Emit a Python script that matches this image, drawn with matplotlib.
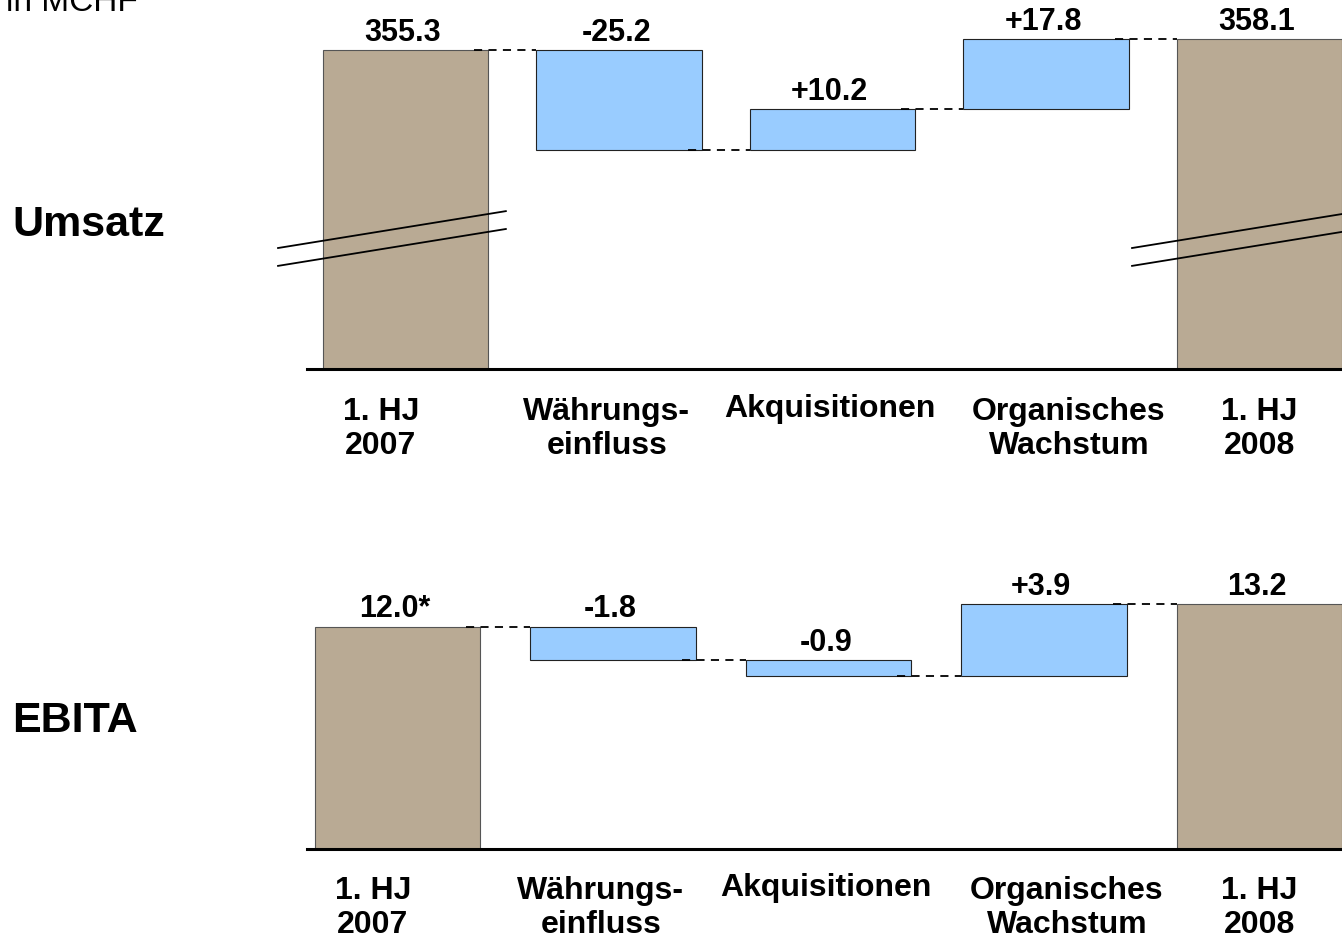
import numpy as np
import matplotlib
matplotlib.use('Agg')
import matplotlib.pyplot as plt

plt.rcParams['font.family'] = ['Liberation Sans', 'DejaVu Sans']

# Data
categories = ['1. HJ\n2007', 'Währungs-\neinfluss', 'Akquisitionen',
              'Organisches\nWachstum', '1. HJ\n2008']
umsatz_start = 355.3
umsatz_deltas = [-25.2, 10.2, 17.8]
umsatz_end = 358.1
ebita_start = 12.0
ebita_deltas = [-1.8, -0.9, 3.9]
ebita_end = 13.2
ebita_start_label = '12.0*'

# Styles
BROWN = '#B9AA94'
BLUE = '#99CCFF'
W, H = 1342, 936
DPI = 100


def px_axes(fig, left, top, right, bottom):
    return fig.add_axes([left / W, 1 - bottom / H, (right - left) / W, (bottom - top) / H])


def waterfall(ax, start, deltas, end, floor, width, start_label=None, breaks=None):
    x = np.arange(len(deltas) + 2)
    # totals
    ax.bar(x[0], start - floor, bottom=floor, width=width, color=BROWN,
           edgecolor='#555555', linewidth=0.8, zorder=2)
    ax.bar(x[-1], end - floor, bottom=floor, width=width, color=BROWN,
           edgecolor='#555555', linewidth=0.8, zorder=2)
    levels = [start]
    for d in deltas:
        levels.append(levels[-1] + d)
    lo = [min(levels[i], levels[i + 1]) for i in range(len(deltas))]
    ax.bar(x[1:-1], np.abs(deltas), bottom=lo, width=width, color=BLUE,
           edgecolor='#222222', linewidth=0.8, zorder=2)

    # connectors
    for i in range(len(levels)):
        ax.plot([x[i] + width / 2 - 0.065, x[i + 1] - width / 2], [levels[i], levels[i]],
                color='black', lw=1.3, dashes=(4.5, 3.5), zorder=3)

    # value labels
    tops = [start] + [max(levels[i], levels[i + 1]) for i in range(len(deltas))] + [end]
    texts = [start_label or f'{start:.1f}'] + [f'{d:+.1f}' for d in deltas] + [f'{end:.1f}']
    for xi, t, s in zip(x, tops, texts):
        ax.annotate(s, xy=(xi, t), xytext=(-2, 6.5), textcoords='offset points',
                    ha='center', va='baseline', fontsize=22, fontweight='bold',
                    annotation_clip=False)

    # category labels (baseline refers to the last line)
    label_shift = [-0.115, -0.057, -0.01, 0.107, 0.0]
    for xi, s, sh in zip(x, categories, label_shift):
        nlines = s.count('\n')
        ax.annotate(s, xy=(xi + sh, floor), xytext=(0, -34.5 - 26.5 * nlines),
                    textcoords='offset points',
                    ha='center', va='baseline', fontsize=23, fontweight='bold',
                    linespacing=1.2, annotation_clip=False)

    # axis break marks
    if breaks is not None:
        y0, gap, dx0, dx1, slope = breaks
        for xi in (x[0], x[-1]):
            for k in (0, 1):
                ax.plot([xi - dx0, xi + dx1],
                        [y0 - k * gap, y0 - k * gap + slope * (dx0 + dx1)],
                        color='black', lw=1.3, clip_on=False, zorder=4)

    ax.set_ylim(bottom=floor)
    for side in ('top', 'right', 'left'):
        ax.spines[side].set_visible(False)
    ax.spines['bottom'].set_linewidth(2.2)
    ax.spines['bottom'].set_zorder(5)
    ax.set_xticks([])
    ax.set_yticks([])
    ax.patch.set_alpha(0)


fig = plt.figure(figsize=(W / DPI, H / DPI), dpi=DPI)

# Umsatz (broken axis)
ax1 = px_axes(fig, 307, 0, 1342, 369.5)
floor1 = 274.8
ax1.set_xlim((307 - 405.5) / 213.5, (1342 - 405.5) / 213.5)
ax1.set_ylim(floor1, floor1 + 369.5 / 3.97)
waterfall(ax1, umsatz_start, umsatz_deltas, umsatz_end, floor1, 0.773,
          breaks=(305.4, 4.5, 0.597, 0.47, 9.3 / 1.068))
ax1.set_ylim(floor1, floor1 + 369.5 / 3.97)

# EBITA
ax2 = px_axes(fig, 307, 560, 1342, 848.5)
ax2.set_xlim((307 - 397.5) / 215.5, (1342 - 397.5) / 215.5)
waterfall(ax2, ebita_start, ebita_deltas, ebita_end, 0.0, 0.768,
          start_label=ebita_start_label)
ax2.set_ylim(0, 288.5 / 18.5)

fig.text(6 / W, 1 - 11 / H, 'in MCHF', fontsize=24, va='baseline', ha='left')
fig.text(12 / W, 1 - 236 / H, 'Umsatz', fontsize=31, fontweight='bold', va='baseline')
fig.text(12 / W, 1 - 732 / H, 'EBITA', fontsize=31, fontweight='bold', va='baseline')

fig.savefig('out.png', dpi=DPI)
